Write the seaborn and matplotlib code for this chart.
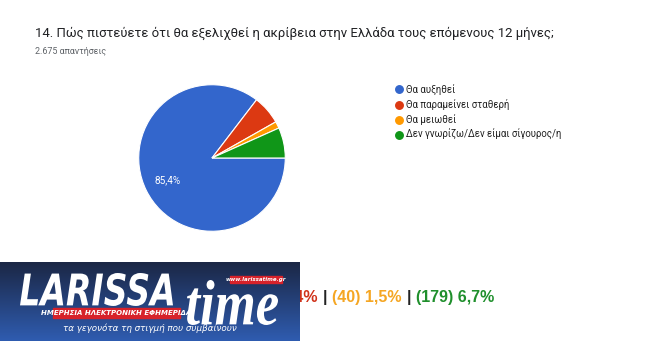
import matplotlib
matplotlib.use("Agg")
import matplotlib.pyplot as plt
from matplotlib.lines import Line2D
from matplotlib.patches import Rectangle, PathPatch
from matplotlib.textpath import TextPath
from matplotlib.font_manager import FontProperties
from matplotlib.transforms import Affine2D
import numpy as np
import seaborn as sns

# ---- data ----
title = "14. Πώς πιστεύετε ότι θα εξελιχθεί η ακρίβεια στην Ελλάδα τους επόμενους 12 μήνες;"
subtitle = "2.675 απαντήσεις"
categories = ["Θα αυξηθεί", "Θα παραμείνει σταθερή", "Θα μειωθεί", "Δεν γνωρίζω/Δεν είμαι σίγουρος/η"]
counts = [2285, 171, 40, 179]
percents = [85.4, 6.4, 1.5, 6.7]
colors = ["#3366cc", "#dc3912", "#ff9900", "#109618"]
text_colors = ["#3366cc", "#d0321a", "#f5a623", "#1f8f2c"]

sns.set_theme(style="white")
plt.rcParams['font.family'] = ['Roboto', 'DejaVu Sans']

W, H = 670, 341
fig = plt.figure(figsize=(W / 100, H / 100), dpi=100)
fig.patch.set_facecolor("white")

def fx(px):
    return px / W

def fy(py):
    return 1 - py / H

# title
fig.text(fx(35), fy(33), title, fontsize=9.45, color="#202124", va="center", ha="left")
fig.text(fx(35), fy(52), subtitle, fontsize=6.4, color="#5f6368", va="center", ha="left")

# pie
cx, cy, r = 212, 158, 74
ax = fig.add_axes([fx(cx - r), fy(cy + r), (2 * r) / W, (2 * r) / H])
wedges, texts, autotexts = ax.pie(
    percents, colors=colors, startangle=0, counterclock=False,
    autopct=lambda p: (f"{p:.1f}%".replace(".", ",") if p > 10 else ""),
    pctdistance=0.68, wedgeprops=dict(edgecolor="white", linewidth=0.8),
    textprops=dict(color="white", fontsize=7.2))
ax.set_xlim(-1.01, 1.01)
ax.set_ylim(-1.01, 1.01)
ax.set_aspect("equal")
ax.axis("off")

# legend
handles = [Line2D([0], [0], marker="o", linestyle="", markerfacecolor=c,
                  markeredgecolor=c, markersize=5.4) for c in colors]
fig.legend(handles, categories, loc="upper left",
           bbox_to_anchor=(fx(388.5), fy(79)), frameon=False, fontsize=6.9,
           handletextpad=0.17, labelspacing=0.44, handlelength=1.2,
           borderpad=0, labelcolor="#222222")

# bottom summary text (partially hidden by the logo)
pieces = []
for i, (n, p) in enumerate(zip(counts, percents)):
    if i > 0:
        pieces.append(("|", "#222222"))
    pieces.append((f"({n}) {p:.1f}%".replace(".", ","), text_colors[i]))

fig.canvas.draw()
renderer = fig.canvas.get_renderer()
xr = 494
gap = 5
for s, c in reversed(pieces):
    t = fig.text(fx(xr), fy(302), s, fontsize=11.5, color=c, ha="right",
                 va="baseline", fontweight="bold",
                 family=["Liberation Sans", "DejaVu Sans"])
    bb = t.get_window_extent(renderer)
    xr = xr - bb.width - gap

# logo overlay
lax = fig.add_axes([0, 0, fx(300), (H - 262) / H])
lax.set_zorder(10)
grad = np.linspace(0, 1, 100).reshape(-1, 1)
top = np.array([0x1b, 0x27, 0x45]) / 255
bot = np.array([0x2f, 0x5c, 0xb0]) / 255
img = top[None, None, :] * (1 - grad[:, :, None]) + bot[None, None, :] * grad[:, :, None]
lax.imshow(img, aspect="auto", extent=[0, 300, 79, 0])
lax.set_xlim(0, 300)
lax.set_ylim(79, 0)
lax.axis("off")


def fit_text(axis, s, x0, x1, ytop, ybot, prop, color):
    tp = TextPath((0, 0), s, size=10, prop=prop)
    e = tp.get_extents()
    tr = (Affine2D().translate(-e.x0, -e.y0)
          .scale((x1 - x0) / e.width, -(ybot - ytop) / e.height)
          .translate(x0, ybot))
    patch = PathPatch(tr.transform_path(tp), facecolor=color, edgecolor="none",
                      transform=axis.transData)
    axis.add_patch(patch)


fit_text(lax, "LARISSA", 20, 173, 11, 44,
         FontProperties(family="DejaVu Sans", weight="bold", style="italic"), "white")
fit_text(lax, "time", 187, 278, 18, 63,
         FontProperties(family="Liberation Serif", weight="bold", style="italic"), "white")
lax.add_patch(Rectangle((53, 46), 127, 10, color="#d7222a"))
lax.text(116.5, 51, "ΗΜΕΡΗΣΙΑ ΗΛΕΚΤΡΟΝΙΚΗ ΕΦΗΜΕΡΙΔΑ", fontsize=5, color="white",
         fontweight="bold", style="italic", ha="center", va="center",
         family=["DejaVu Sans"])
lax.add_patch(Rectangle((230, 14), 52, 7, color="#d7222a"))
lax.text(256, 17.5, "www.larissatime.gr", fontsize=4, color="white",
         fontweight="bold", style="italic", ha="center", va="center",
         family=["DejaVu Sans"])
lax.text(150, 66, "τα γεγονότα τη στιγμή που συμβαίνουν", fontsize=6.3, color="white",
         style="italic", ha="center", va="center", family=["DejaVu Sans"])

fig.savefig("out.png", dpi=100, facecolor="white")
